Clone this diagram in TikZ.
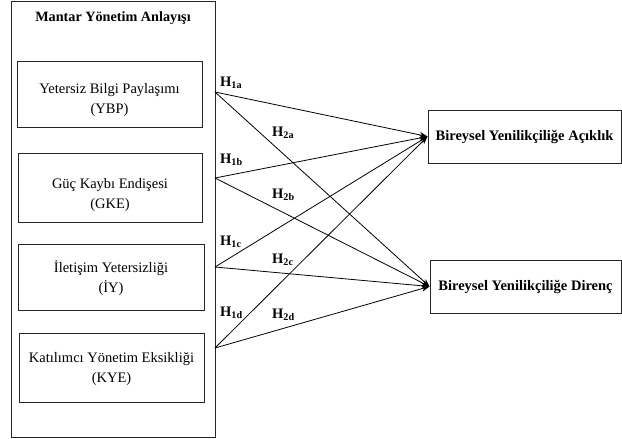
\documentclass[tikz,border=0pt]{standalone}
\usepackage{fontspec}
\setmainfont{Liberation Serif}
\usetikzlibrary{arrows.meta}
\newcommand\lowerby[1]{\rule{0pt}{#1}}
\begin{document}
\begin{tikzpicture}[x=1pt,y=-1pt,
  box/.style={draw=black!85,line width=1pt,rectangle,inner sep=0pt,align=center,font=\fontsize{14.5}{20}\selectfont},
  rbox/.style={box,font=\fontsize{14.5}{17}\selectfont\bfseries},
  hyp/.style={anchor=west,inner sep=0pt,font=\fontsize{14.5}{17}\selectfont\bfseries},
  arr/.style={draw=black,line width=0.8pt,-{Stealth[length=8pt,width=6pt,open,fill=black]}}]
\useasboundingbox (0,0) rectangle (622,439);
\fill[white] (0,0) rectangle (622,439);
% outer box
\node[draw=black!85,line width=1pt,minimum width=204pt,minimum height=436pt,inner sep=0pt] (outer) at (113,219) {};
\node[font=\fontsize{14.2}{17}\selectfont\bfseries] (title) at (113,18) {Mantar Yönetim Anlayışı};
% inner boxes
\node[box,minimum width=185pt,minimum height=66pt] (ybp) at (109.5,94) {\lowerby{22pt}Yetersiz Bilgi Paylaşımı\\(YBP)};
\node[box,minimum width=184pt,minimum height=69pt] (gke) at (110,187.5) {\lowerby{26pt}Güç Kaybı Endişesi\\(GKE)};
\node[box,minimum width=186pt,minimum height=66pt] (iy) at (111,277) {\lowerby{15pt}İletişim Yetersizliği\\(İY)};
\node[box,minimum width=185pt,minimum height=69pt] (kye) at (111.5,367.5) {\lowerby{14pt}Katılımcı Yönetim Eksikliği\\(KYE)};
% right boxes
\node[rbox,minimum width=193pt,minimum height=53pt] (ack) at (524.5,136.5) {Bireysel Yenilikçiliğe Açıklık};
\node[rbox,minimum width=191pt,minimum height=53pt] (dir) at (525.5,286.5) {Bireysel Yenilikçiliğe Direnç};
% sources
\coordinate (s1) at (215,92);
\coordinate (s2) at (215,178);
\coordinate (s3) at (215,267);
\coordinate (s4) at (215,348);
% arrows
\foreach \s in {s1,s2,s3,s4}{
  \draw[arr] (\s) -- (ack.west);
  \draw[arr] (\s) -- (dir.west);
}
% labels
\node[hyp] (h1a) at (220,83) {H\textsubscript{1a}};
\node[hyp] (h2a) at (272,133) {H\textsubscript{2a}};
\node[hyp] (h1b) at (220,160) {H\textsubscript{1b}};
\node[hyp] (h2b) at (272,195) {H\textsubscript{2b}};
\node[hyp] (h1c) at (220,242) {H\textsubscript{1c}};
\node[hyp] (h2c) at (272,260) {H\textsubscript{2c}};
\node[hyp] (h1d) at (220,313) {H\textsubscript{1d}};
\node[hyp] (h2d) at (272,315) {H\textsubscript{2d}};
\end{tikzpicture}
\end{document}
